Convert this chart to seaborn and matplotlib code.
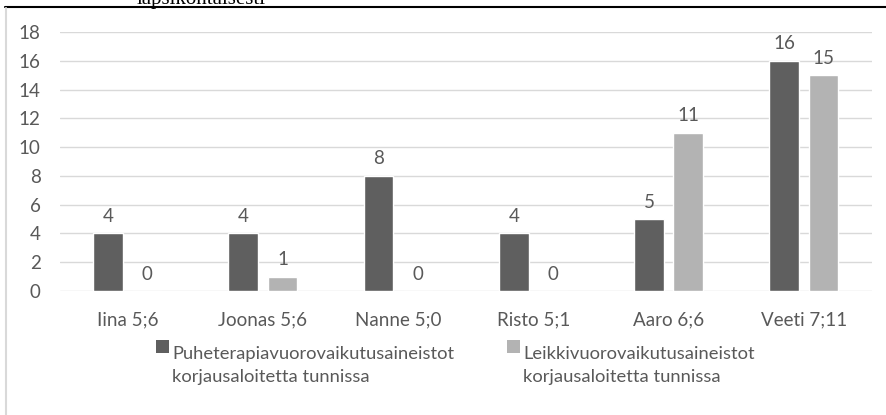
#!/usr/bin/env python
"""Grouped bar chart: correction initiations per hour, per child,
in speech therapy vs. play interaction data."""
import matplotlib.pyplot as plt
from matplotlib.lines import Line2D
from matplotlib.patches import Patch, Rectangle
from matplotlib.legend_handler import HandlerPatch
import seaborn as sb
import pandas as pd

# chart data
children = ['Iina 5;6', 'Joonas 5;6', 'Nanne 5;0', 'Risto 5;1', 'Aaro 6;6', 'Veeti 7;11']
therapy = [4, 4, 8, 4, 5, 16]
play = [0, 1, 0, 0, 11, 15]
series = ['Puheterapiavuorovaikutusaineistot\nkorjausaloitetta tunnissa',
          'Leikkivuorovaikutusaineistot\nkorjausaloitetta tunnissa']
colors = ['#5f5f5f', '#b3b3b3']
text_color = '#595959'


def top_square(legend, orig_handle, xdescent, ydescent, width, height, fontsize):
    # put the legend square next to the first text line, as in the original
    return Rectangle((-xdescent, -ydescent + 1.0 * fontsize), width, height)


def main():
    df = pd.DataFrame({
        'child': children * 2,
        'value': therapy + play,
        'series': [series[0]] * len(children) + [series[1]] * len(children),
    })

    sb.set_style('white')
    plt.rcParams['font.family'] = ['Lato', 'DejaVu Sans']

    fig = plt.figure(figsize=(8.86, 4.15), dpi=100)
    ax = fig.add_axes([0.0677, 0.299, 0.916, 0.624])
    sb.barplot(data=df, x='child', y='value', hue='series', hue_order=series,
               palette=colors, width=0.58, gap=0.24, ax=ax, legend=False,
               saturation=1)

    for cont in ax.containers:
        ax.bar_label(cont, padding=6, fontsize=13.5, color=text_color)

    ax.set_ylim(0, 18)
    ax.set_yticks(range(0, 19, 2))
    ax.set_xlim(-0.5, len(children) - 0.5)
    ax.set_xlabel('')
    ax.set_ylabel('')
    ax.yaxis.grid(True, color='#d9d9d9', linewidth=1)
    ax.set_axisbelow(True)
    for s in ax.spines.values():
        s.set_visible(False)
    ax.tick_params(axis='both', length=0, labelsize=13.5, labelcolor=text_color)
    ax.tick_params(axis='y', pad=14)
    ax.tick_params(axis='x', pad=15)

    handles = [Patch(facecolor=c, edgecolor='none') for c in colors]
    leg = fig.legend(handles, series, loc='center', ncol=2,
                     bbox_to_anchor=(0.514, 0.12), frameon=False,
                     fontsize=13.2, handlelength=0.72, handleheight=0.72,
                     handletextpad=0.15, columnspacing=2.9,
                     handler_map={Patch: HandlerPatch(patch_func=top_square)})
    for t in leg.get_texts():
        t.set_color(text_color)
        t.set_linespacing(1.55)

    # page decoration: clipped caption above and chart frame
    fig.text(0.227, 0.990, 'lapsikohtaisesti', ha='center', va='baseline',
             family=['Liberation Serif', 'DejaVu Serif'], fontsize=15, color='black')
    fig.add_artist(Line2D([0.006, 1.0], [0.982, 0.982], color='black', linewidth=1.5))
    fig.add_artist(Line2D([0.007, 0.007], [0.0, 0.981], color='#d9d9d9', linewidth=1.5))

    fig.savefig('out.png', dpi=100)


if __name__ == '__main__':
    main()
